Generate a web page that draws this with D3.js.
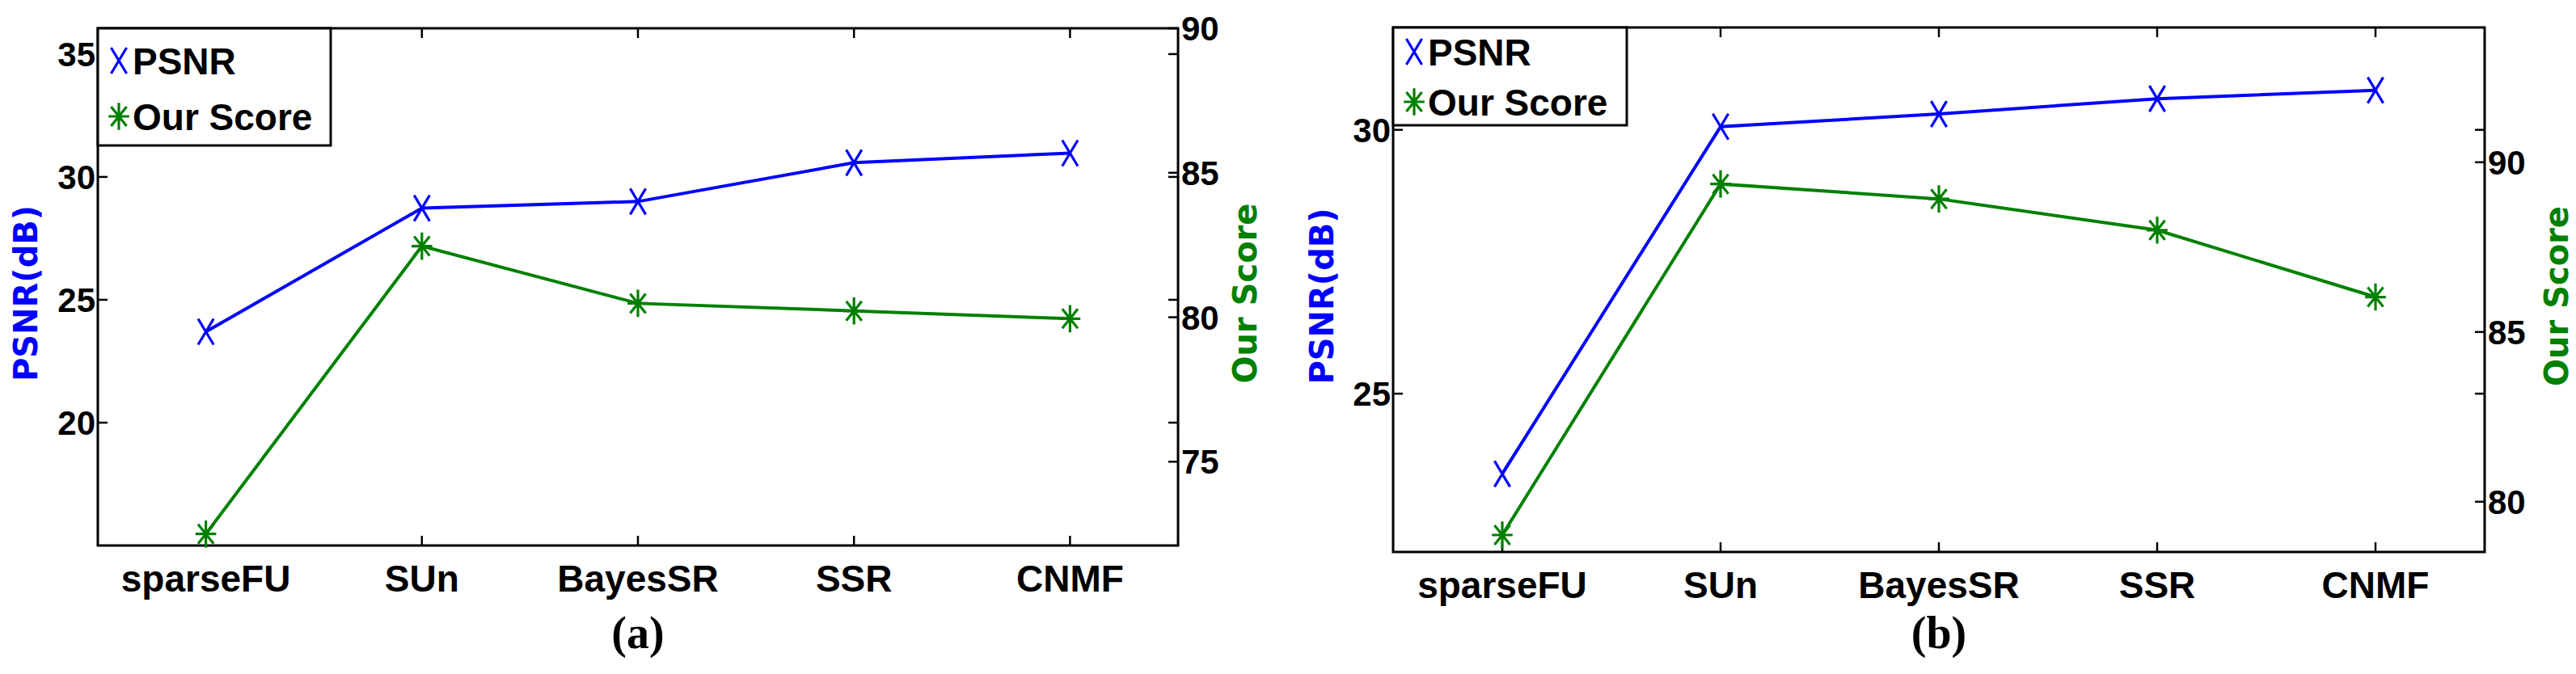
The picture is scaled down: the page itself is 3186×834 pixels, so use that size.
<!DOCTYPE html>
<html><head><meta charset="utf-8">
<script src="https://cdn.jsdelivr.net/npm/d3@7"></script>
<style>body{margin:0;background:#fff}svg{display:block}</style>
</head><body><svg id="c" width="3186" height="834"></svg>
<script>
const categories = ["sparseFU","SUn","BayesSR","SSR","CNMF"];
const psnrA = [23.7, 28.73, 29.0, 30.58, 30.97];
const scoreA = [72.5, 82.46, 80.48, 80.22, 79.95];
const psnrB = [23.48, 30.06, 30.30, 30.59, 30.75];
const scoreB = [79.02, 89.36, 88.92, 88.0, 86.03];
const leftTicksA = [20,25,30,35], rightTicksA = [75,80,85,90];
const leftTicksB = [25,30], rightTicksB = [80,85,90];

const svg = d3.select("#c");
const BLUE="#0000ff", GREEN="#008000";
const tickFont = "'Liberation Sans Narrow','Liberation Sans',Arial,sans-serif";
const titleFont = "'DejaVu Sans',Verdana,sans-serif";

function panel(o){
  const g = svg.append("g");
  const x = d3.scalePoint().domain(categories).range([o.l,o.r]).padding(0.5);
  const yL = d3.scaleLinear().domain(o.ld).range([o.b,o.t]);
  const yR = d3.scaleLinear().domain(o.rd).range([o.b,o.t]);
  const T=12;
  g.append("rect").attr("x",o.l).attr("y",o.t).attr("width",o.r-o.l).attr("height",o.b-o.t)
    .attr("fill","none").attr("stroke","#000").attr("stroke-width",3);
  categories.forEach(c=>{
    g.append("line").attr("x1",x(c)).attr("x2",x(c)).attr("y1",o.b).attr("y2",o.b-T).attr("stroke","#000").attr("stroke-width",2.5);
    g.append("line").attr("x1",x(c)).attr("x2",x(c)).attr("y1",o.t).attr("y2",o.t+T).attr("stroke","#000").attr("stroke-width",2.5);
    g.append("text").attr("x",x(c)).attr("y",o.b+57).attr("text-anchor","middle")
      .attr("font-family",tickFont).attr("font-weight","bold").attr("font-size",46).text(c);
  });
  o.lt.forEach(v=>{
    g.append("line").attr("x1",o.l).attr("x2",o.l+T).attr("y1",yL(v)).attr("y2",yL(v)).attr("stroke","#000").attr("stroke-width",2.5);
    g.append("line").attr("x1",o.r).attr("x2",o.r-T).attr("y1",yL(v)).attr("y2",yL(v)).attr("stroke","#000").attr("stroke-width",2.5);
    g.append("text").attr("x",o.l-3).attr("y",yL(v)+15).attr("text-anchor","end")
      .attr("font-family",tickFont).attr("font-weight","bold").attr("font-size",42).text(v);
  });
  o.rt.forEach(v=>{
    g.append("line").attr("x1",o.r).attr("x2",o.r-T).attr("y1",yR(v)).attr("y2",yR(v)).attr("stroke","#000").attr("stroke-width",2.5);
    g.append("text").attr("x",o.r+4).attr("y",yR(v)+15).attr("text-anchor","start")
      .attr("font-family",tickFont).attr("font-weight","bold").attr("font-size",42).text(v);
  });
  g.append("text").attr("transform",`translate(${o.yl+15},${(o.t+o.b)/2+8}) rotate(-90)`).attr("text-anchor","middle")
    .attr("font-family",titleFont).attr("font-weight","bold").attr("font-size",40).attr("fill",BLUE).text("PSNR(dB)");
  g.append("text").attr("transform",`translate(${o.yr+15},${(o.t+o.b)/2+8}) rotate(-90)`).attr("text-anchor","middle")
    .attr("font-family",titleFont).attr("font-weight","bold").attr("font-size",40).attr("fill",GREEN).text("Our Score");
  const line = (ys)=>d3.line().x((d,i)=>x(categories[i])).y(d=>ys(d));
  g.append("path").datum(o.p).attr("d",line(yL)).attr("fill","none").attr("stroke",BLUE).attr("stroke-width",4);
  g.append("path").datum(o.s).attr("d",line(yR)).attr("fill","none").attr("stroke",GREEN).attr("stroke-width",4);
  const cross=(cx,cy,col)=>{const s=16;g.append("path").attr("d",`M${cx-s*0.6},${cy-s}L${cx+s*0.6},${cy+s}M${cx-s*0.6},${cy+s}L${cx+s*0.6},${cy-s}`).attr("stroke",col).attr("stroke-width",3.2).attr("fill","none");};
  const star=(cx,cy,col)=>{const s=16;g.append("path").attr("d",`M${cx-s*0.6},${cy-s*0.75}L${cx+s*0.6},${cy+s*0.75}M${cx-s*0.6},${cy+s*0.75}L${cx+s*0.6},${cy-s*0.75}M${cx},${cy-s*1.05}L${cx},${cy+s*1.05}M${cx-s*0.8},${cy}L${cx+s*0.8},${cy}`).attr("stroke",col).attr("stroke-width",3.2).attr("fill","none");};
  o.p.forEach((d,i)=>cross(x(categories[i]),yL(d),BLUE));
  o.s.forEach((d,i)=>star(x(categories[i]),yR(d),GREEN));
  g.append("rect").attr("x",o.l).attr("y",o.t).attr("width",o.lw).attr("height",o.lh).attr("fill","#fff").attr("stroke","#000").attr("stroke-width",3);
  cross(o.l+26,o.ly1,BLUE); star(o.l+26,o.ly2,GREEN);
  g.append("text").attr("x",o.l+43).attr("y",o.ly1+17).attr("font-family",tickFont).attr("font-weight","bold").attr("font-size",46).text("PSNR");
  g.append("text").attr("x",o.l+43).attr("y",o.ly2+17).attr("font-family",tickFont).attr("font-weight","bold").attr("font-size",46).text("Our Score");
  g.append("text").attr("x",(o.l+o.r)/2).attr("y",802).attr("text-anchor","middle")
    .attr("font-family","'Liberation Serif','Times New Roman',serif").attr("font-weight","bold").attr("font-size",56).text(o.cap);
}
panel({l:121,r:1457,t:35,b:675,ld:[15,36.05],rd:[72.1,90],lt:leftTicksA,rt:rightTicksA,p:psnrA,s:scoreA,
  yl:31,yr:1539,lw:288,lh:145,ly1:75,ly2:144,cap:"(a)"});
panel({l:1723,r:3073,t:34,b:683,ld:[22,31.94],rd:[78.52,93.97],lt:leftTicksB,rt:rightTicksB,p:psnrB,s:scoreB,
  yl:1634,yr:3161,lw:289,lh:121,ly1:64,ly2:126,cap:"(b)"});
</script></body></html>
